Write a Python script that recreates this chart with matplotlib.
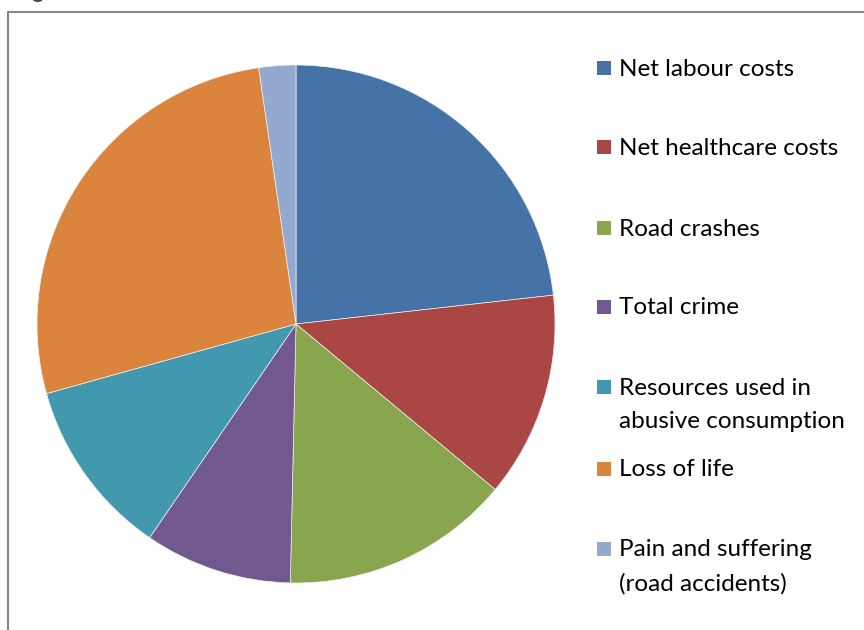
import matplotlib

matplotlib.use("Agg")
import matplotlib.pyplot as plt
from matplotlib.lines import Line2D
from matplotlib.patches import Rectangle

# cost shares (%), clockwise from 12 o'clock
categories = [
    "Net labour costs",
    "Net healthcare costs",
    "Road crashes",
    "Total crime",
    "Resources used in\nabusive consumption",
    "Loss of life",
    "Pain and suffering\n(road accidents)",
]
shares = [23.2, 12.8, 14.3, 9.2, 11.1, 27.0, 2.3]
colors = ["#4572A7", "#AA4643", "#89A54E", "#71588F", "#4198AF", "#DB843D", "#93A9CF"]

W, H = 864, 630
plt.rcParams["font.family"] = ["Lato", "DejaVu Sans"]

fig = plt.figure(figsize=(W / 100, H / 100), dpi=100)

# pie centre (296, 324) px, radius 259 px
cx, cy, r = 296, 324, 259
ax = fig.add_axes([(cx - r) / W, (H - cy - r) / H, 2 * r / W, 2 * r / H])
ax.pie(
    shares,
    colors=colors,
    startangle=90,
    counterclock=False,
    radius=1.0,
    wedgeprops=dict(edgecolor="#f0f0f0", linewidth=0.5),
)
ax.set_xlim(-1, 1)
ax.set_ylim(-1, 1)
ax.set_aspect("equal")
ax.axis("off")

# chart frame (runs off the right and bottom of the image)
fig.add_artist(Line2D([8 / W, 8 / W, 1.0], [0.0, 1 - 12 / H, 1 - 12 / H],
                      transform=fig.transFigure, color="#868686", linewidth=1.5))

# title sits above the crop, only a sliver of it shows
fig.text(14 / W, 1 + 1.5 / H, "Figure", fontsize=16, fontweight="bold",
         color="#3b4a5a", ha="left", va="baseline")

# legend, manually placed like Excel's right-hand legend
leg_y = [68, 147, 228, 307, 387, 469, 549]
line_gap = 34
for lab, col, y in zip(categories, colors, leg_y):
    fig.add_artist(Rectangle((597 / W, 1 - (y + 7) / H), 14 / W, 14 / H,
                             transform=fig.transFigure, facecolor=col, edgecolor="none"))
    n = lab.count("\n")
    fig.text(619 / W, 1 - (y + 1 + n * line_gap / 2) / H, lab, fontsize=17.5, color="black",
             ha="left", va="center", linespacing=1.75)

fig.savefig("out.png", dpi=100)
